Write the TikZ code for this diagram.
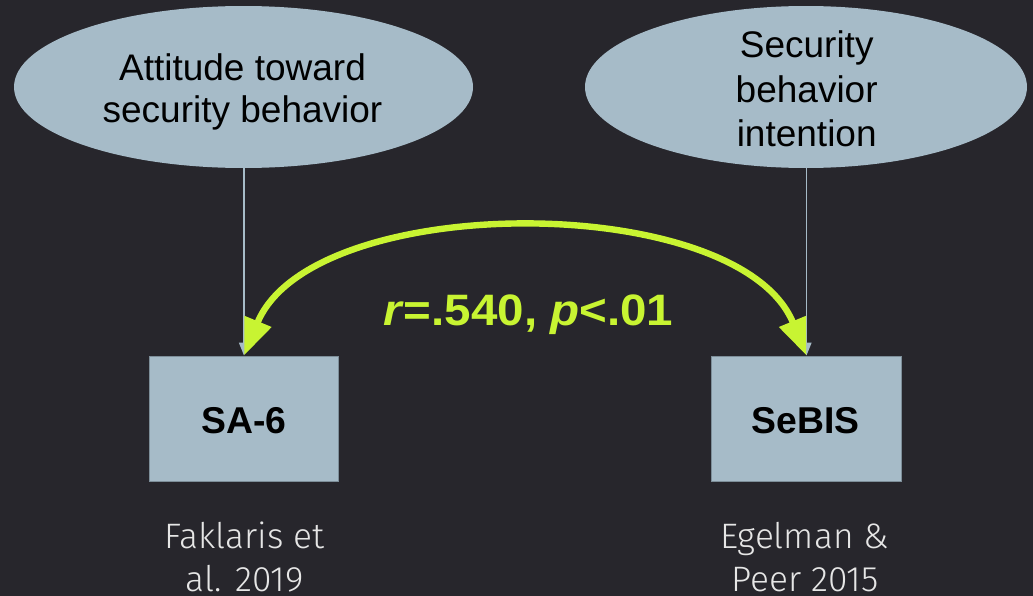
\documentclass[tikz,border=0pt]{standalone}
\usepackage{fontspec}
\usepackage{graphicx}
\setmainfont{Liberation Sans}
\newfontfamily\lightfont{Fira Sans Light}
\usetikzlibrary{shapes.geometric,arrows.meta}
\definecolor{bg}{HTML}{27262C}
\definecolor{node}{HTML}{A6BBC8}
\definecolor{nodeline}{HTML}{7D8E99}
\definecolor{lime}{HTML}{C8F432}
\definecolor{ref}{HTML}{E6E6E6}
\tikzset{
  latent/.style={ellipse,fill=node,draw=none,inner sep=0pt,minimum height=121.5pt},
  latenttext/.style={anchor=base,align=center,text=black,inner sep=0pt},
  measure/.style={rectangle,fill=node,draw=nodeline,line width=0.6pt,inner sep=0pt,
    minimum width=142pt,minimum height=94.3pt},
  measuretext/.style={anchor=base,inner sep=0pt,font=\fontsize{28pt}{32pt}\selectfont\bfseries},
  reftext/.style={anchor=base,align=center,inner sep=0pt,text=ref,
    font=\lightfont\fontsize{26.5pt}{32.5pt}\selectfont},
  loading/.style={draw=node,line width=1.1pt,-{Triangle[length=9.75pt,width=7.5pt]}},
  corr/.style={draw=lime,line width=4.8pt,
    {Triangle[length=27.7pt,width=20.7pt]}-{Triangle[length=27.7pt,width=20.7pt]}},
}
\begin{document}
\begin{tikzpicture}[x=0.75pt,y=-0.75pt]
\fill[bg] (0,0) rectangle (1033,596);
\useasboundingbox (0,0) rectangle (1033,596);

\node[latent,minimum width=344.25pt] (e1) at (243.5,87) {};
\node[latent,minimum width=331.5pt] (e2) at (806,87) {};
\node[latenttext,font=\fontsize{27.75pt}{32pt}\selectfont] (t1) at (242.5,122.7)
  {Attitude toward\\security behavior};
\node[latenttext,font=\fontsize{27.75pt}{33.5pt}\selectfont] (t2) at (806.7,146.7)
  {Security\\behavior\\intention};

\node[measure] (b1) at (244,418.8) {};
\node[measure] (b2) at (806.5,418.8) {};
\node[measuretext] (s1) at (243.8,433.3) {SA-6};
\node[measuretext] (s2) at (805.8,433.3) {SeBIS};

\draw[loading] (e1.south -| b1.north) -- (b1.north);
\draw[loading] (e2.south -| b2.north) -- (b2.north);

\draw[corr] (b1.north) .. controls +(68,-165.3) and +(-68,-165.3) .. (b2.north);

\node[anchor=base,inner sep=0pt,text=lime,font=\fontsize{33pt}{38pt}\selectfont\bfseries] (stat) at (528.3,325)
  {\scalebox{1.08}[1]{\textit{r}=.540, \textit{p}<.01}};

\node[reftext] (r1) at (244.7,591.7) {Faklaris et\\al. 2019};
\node[reftext] (r2) at (804.7,591.7) {Egelman \&\\Peer 2015};
\end{tikzpicture}
\end{document}
